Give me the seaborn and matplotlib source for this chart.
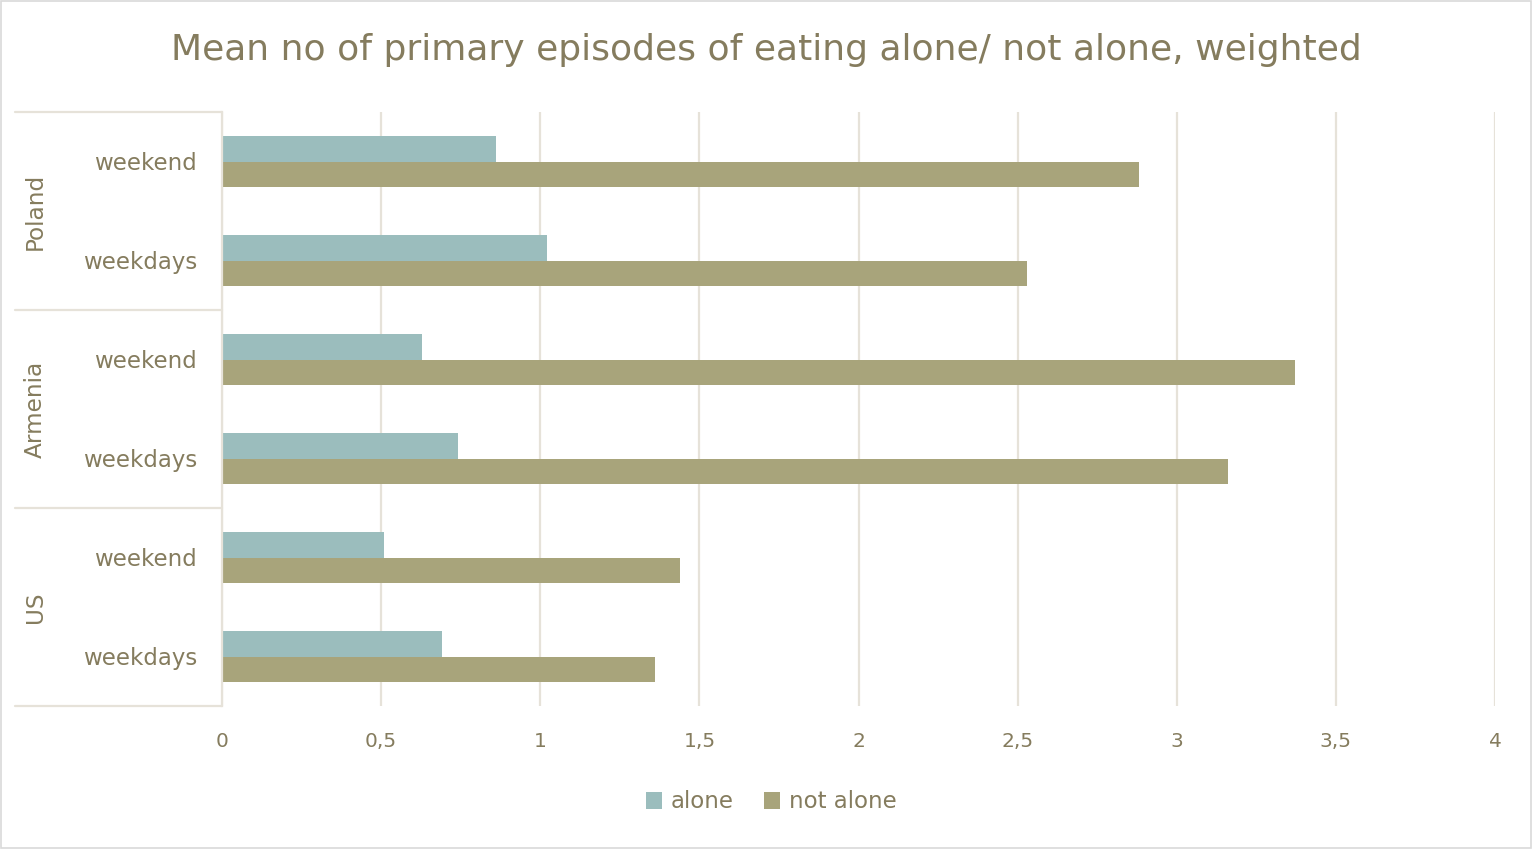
import matplotlib
matplotlib.use("Agg")
import matplotlib.pyplot as plt
import matplotlib.transforms as mtransforms
from matplotlib.patches import Rectangle
import seaborn as sns
import pandas as pd

countries = ["Poland", "Poland", "Armenia", "Armenia", "US", "US"]
periods = ["weekend", "weekdays", "weekend", "weekdays", "weekend", "weekdays"]
alone = [0.86, 1.02, 0.63, 0.74, 0.51, 0.69]
not_alone = [2.88, 2.53, 3.37, 3.16, 1.44, 1.36]
series_names = ["alone", "not alone"]
x_ticks = [0, 0.5, 1, 1.5, 2, 2.5, 3, 3.5, 4]
x_tick_labels = ["0", "0,5", "1", "1,5", "2", "2,5", "3", "3,5", "4"]
title = "Mean no of primary episodes of eating alone/ not alone, weighted"

text_color = "#857c5e"
grid_color = "#e6e2d9"
colors = ["#9bbdbd", "#a8a47b"]

keys = [f"{c}|{p}" for c, p in zip(countries, periods)]
df = pd.DataFrame({
    "key": keys * 2,
    "value": alone + not_alone,
    "series": [series_names[0]] * 6 + [series_names[1]] * 6,
})

sns.set_theme(style="white")
plt.rcParams["font.family"] = ["DejaVu Sans"]

fig = plt.figure(figsize=(15.32, 8.49), dpi=100)
W, H = 1532, 849
ax = fig.add_axes([222 / W, 1 - 706 / H, (1495 - 222) / W, (706 - 112) / H])

sns.barplot(data=df, y="key", x="value", hue="series", order=keys,
            hue_order=series_names, palette=colors, orient="h",
            width=0.525, ax=ax, legend=True, saturation=1, linewidth=0)

ax.set_xlim(0, 4)
ax.set_ylim(5.5, -0.5)
ax.set_xticks(x_ticks)
ax.set_xticklabels(x_tick_labels, color=text_color, fontsize=14.5)
ax.set_yticks(range(6))
ax.set_yticklabels(periods, color=text_color, fontsize=16.5)
shift = mtransforms.ScaledTranslation(0, 4 / 100, fig.dpi_scale_trans)
for lbl in ax.get_yticklabels():
    lbl.set_va("center_baseline")
    lbl.set_transform(lbl.get_transform() + shift)
ax.tick_params(axis="y", pad=18, length=0)
ax.tick_params(axis="x", pad=19, length=0)
ax.set_xlabel("")
ax.set_ylabel("")

ax.grid(axis="x", color=grid_color, linewidth=1.6)
ax.set_axisbelow(True)
for s in ["top", "right", "bottom"]:
    ax.spines[s].set_visible(False)
ax.spines["left"].set_color(grid_color)
ax.spines["left"].set_linewidth(1.6)

# group separators and labels
trans = mtransforms.blended_transform_factory(ax.transAxes, ax.transData)
x0 = (15 - 222) / (1495 - 222)
for yb in [-0.5, 1.5, 3.5, 5.5]:
    ax.plot([x0, 0], [yb, yb], color=grid_color, linewidth=1.6,
            transform=trans, clip_on=False)
group_names = ["Poland", "Armenia", "US"]
for i, g in enumerate(group_names):
    ax.text((35 - 222) / (1495 - 222), 2 * i + 0.5, g, transform=trans,
            rotation=90, ha="center", va="center", color=text_color, fontsize=16.7)

ax.set_title("")
fig.text(766 / W, 1 - 50 / H, title, ha="center", va="center",
         color=text_color, fontsize=26)

leg = ax.legend(loc="center", bbox_to_anchor=(771 / W, 1 - 802 / H),
                bbox_transform=fig.transFigure, ncol=2, frameon=False,
                fontsize=16.5, handlelength=0.7, handleheight=0.7,
                handletextpad=0.4, columnspacing=1.3)
for t in leg.get_texts():
    t.set_color(text_color)

fig.patches.append(Rectangle((1 / W, 1 / H), 1 - 2 / W, 1 - 2 / H,
                             transform=fig.transFigure, fill=False,
                             edgecolor="#d9d9d9", linewidth=1.2))

fig.savefig("out.png", dpi=100, facecolor="white")
